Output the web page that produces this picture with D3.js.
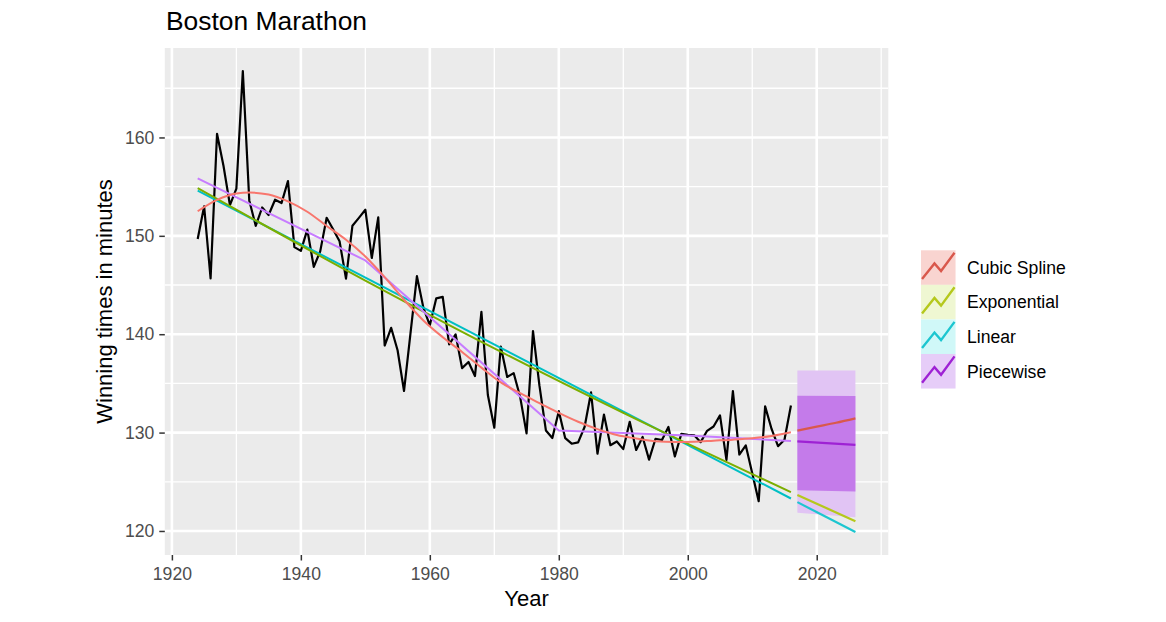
<!DOCTYPE html>
<html>
<head>
<meta charset="utf-8">
<script src="https://cdn.jsdelivr.net/npm/d3@7"></script>
<style>
  body { margin: 0; background: #fff; }
  svg { display: block; font-family: "Liberation Sans", Arial, Helvetica, sans-serif; }
</style>
</head>
<body>
<svg id="chart"></svg>
<script>
// Boston marathon winning times (minutes), 1924-2016
const firstYear = 1924;
const winningTimes = [
  149.67, 153.00, 145.67, 160.37, 157.12, 153.13, 154.80, 166.75, 153.60, 151.02,
  152.88, 152.12, 153.67, 153.33, 155.57, 148.85, 148.47, 150.63, 146.85, 148.42,
  151.83, 150.67, 149.45, 145.65, 151.03, 151.83, 152.65, 147.75, 151.88, 138.85,
  140.65, 138.37, 134.23, 140.08, 145.90, 142.70, 140.90, 143.65, 143.80, 138.97,
  139.98, 136.55, 137.18, 135.75, 142.28, 133.82, 130.50, 138.75, 135.65, 136.05,
  133.65, 129.92, 140.32, 134.77, 130.22, 129.45, 132.18, 129.43, 128.87, 129.00,
  130.57, 134.08, 127.85, 131.83, 128.72, 129.10, 128.32, 131.10, 128.23, 129.55,
  127.25, 129.37, 129.25, 130.57, 127.57, 129.87, 129.78, 129.72, 129.03, 130.18,
  130.62, 131.75, 127.23, 134.22, 127.77, 128.70, 125.87, 123.03, 132.67, 130.37,
  128.62, 129.28, 132.75
];

const seriesNames = ["Cubic Spline", "Exponential", "Linear", "Piecewise"];

// fitted values [year, minutes]
const linearFit = [[1924, 154.60], [2016, 123.30]];
const expFit = [[1924, 154.85], [1950, 145.45], [1970, 138.55], [1990, 132.00], [2016, 123.95]];
const piecewiseFit = [[1924, 155.85], [1950, 147.50], [1980, 130.20], [2000, 129.70], [2016, 129.15]];
const splineFit = [
  [1924, 152.50], [1927, 153.65], [1930, 154.30], [1932, 154.40], [1935, 154.20],
  [1938, 153.50], [1941, 152.45], [1944, 151.00], [1947, 149.60], [1950, 147.90],
  [1953, 145.80], [1956, 143.50], [1959, 141.40], [1962, 139.70], [1965, 138.20],
  [1968, 136.60], [1971, 135.10], [1974, 134.00], [1977, 133.00], [1980, 132.00],
  [1983, 131.10], [1986, 130.35], [1989, 129.75], [1992, 129.40], [1995, 129.12],
  [1998, 129.05], [2001, 129.08], [2004, 129.18], [2007, 129.28], [2010, 129.42],
  [2013, 129.65], [2016, 130.03]
];

// forecasts 2017-2026
const linearFc = [[2017, 122.93], [2026, 119.90]];
const expFc = [[2017, 123.65], [2026, 121.00]];
const piecewiseFc = [[2017, 129.10], [2026, 128.75]];
const splineFc = [[2017, 130.20], [2020, 130.60], [2023, 131.00], [2026, 131.45]];

// piecewise prediction intervals
const bandYears = [2017, 2026];
const lo95 = [121.85, 121.40];
const lo80 = [124.15, 124.00];
const hi80 = [133.75, 133.72];
const hi95 = [136.30, 136.30];

// axis ticks
const xMajor = [1920, 1940, 1960, 1980, 2000, 2020];
const xMinor = [1930, 1950, 1970, 1990, 2010, 2030];
const yMajor = [120, 130, 140, 150, 160];
const yMinor = [125, 135, 145, 155, 165];

const width = 1166, height = 622;
const panel = {left: 164.8, right: 888.3, top: 48, bottom: 555};

const fitColours = ["#F8766D", "#7CAE00", "#00BFC4", "#C77CFF"];
const fcColours = ["#D9584C", "#B5C81C", "#1CC6D0", "#9E22D4"];
const keyFills = ["#F9D4D0", "#EFF7D2", "#D0F8F8", "#E6CDF8"];

const observed = winningTimes.map((v, i) => [firstYear + i, v]);

const expand = ([a, b]) => [a - (b - a) * 0.05, b + (b - a) * 0.05];

const allPoints = [observed, linearFit, expFit, piecewiseFit, splineFit,
  linearFc, expFc, piecewiseFc, splineFc].flat();
const allY = allPoints.map(d => d[1]).concat(lo95, hi95);

const x = d3.scaleLinear()
    .domain(expand(d3.extent(allPoints, d => d[0])))
    .range([panel.left, panel.right]);

const y = d3.scaleLinear()
    .domain(expand(d3.extent(allY)))
    .range([panel.bottom, panel.top]);

const svg = d3.select('#chart')
    .attr('width', width)
    .attr('height', height)
    .attr('viewBox', `0 0 ${width} ${height}`);

svg.append('defs').append('clipPath').attr('id', 'clip')
  .append('rect')
    .attr('x', panel.left).attr('y', panel.top)
    .attr('width', panel.right - panel.left).attr('height', panel.bottom - panel.top);

svg.append('rect')
    .attr('x', panel.left).attr('y', panel.top)
    .attr('width', panel.right - panel.left).attr('height', panel.bottom - panel.top)
    .attr('fill', '#EBEBEB');

const grid = svg.append('g').attr('stroke', '#fff').attr('clip-path', 'url(#clip)');

grid.selectAll('.xminor').data(xMinor).join('line')
    .attr('x1', d => x(d)).attr('x2', d => x(d))
    .attr('y1', panel.top).attr('y2', panel.bottom)
    .attr('stroke-width', 1.3);
grid.selectAll('.yminor').data(yMinor).join('line')
    .attr('y1', d => y(d)).attr('y2', d => y(d))
    .attr('x1', panel.left).attr('x2', panel.right)
    .attr('stroke-width', 1.3);
grid.selectAll('.xmajor').data(xMajor).join('line')
    .attr('x1', d => x(d)).attr('x2', d => x(d))
    .attr('y1', panel.top).attr('y2', panel.bottom)
    .attr('stroke-width', 2.6);
grid.selectAll('.ymajor').data(yMajor).join('line')
    .attr('y1', d => y(d)).attr('y2', d => y(d))
    .attr('x1', panel.left).attr('x2', panel.right)
    .attr('stroke-width', 2.6);

const plot = svg.append('g').attr('clip-path', 'url(#clip)');

const straight = d3.line().x(d => x(d[0])).y(d => y(d[1]));
const smooth = d3.line().x(d => x(d[0])).y(d => y(d[1])).curve(d3.curveMonotoneX);

function addLine(data, colour, gen, w) {
  plot.append('path')
      .datum(data)
      .attr('d', gen)
      .attr('fill', 'none')
      .attr('stroke', colour)
      .attr('stroke-width', w)
      .attr('stroke-linejoin', 'round');
}

// observed series
addLine(observed, '#000', straight, 2.2);

// fitted values: Linear, Exponential, Piecewise, Cubic Spline
addLine(linearFit, fitColours[2], straight, 2);
addLine(expFit, fitColours[1], smooth, 2);
addLine(piecewiseFit, fitColours[3], straight, 2);
addLine(splineFit, fitColours[0], smooth, 2);

// piecewise forecast intervals
const band = (lo, hi) => d3.area()
    .x((d, i) => x(d))
    .y0((d, i) => y(lo[i]))
    .y1((d, i) => y(hi[i]));

plot.append('path').datum(bandYears).attr('d', band(lo95, hi95)).attr('fill', '#E1C4F4');
plot.append('path').datum(bandYears).attr('d', band(lo80, hi80)).attr('fill', '#C47BEA');

// point forecasts
addLine(piecewiseFc, fcColours[3], straight, 2.2);
addLine(linearFc, fcColours[2], straight, 2.2);
addLine(expFc, fcColours[1], straight, 2.2);
addLine(splineFc, fcColours[0], smooth, 2.2);

// axes
const xAxis = svg.append('g')
    .attr('transform', `translate(0,${panel.bottom})`)
    .call(d3.axisBottom(x).tickValues(xMajor).tickFormat(d3.format('d'))
      .tickSize(5.5).tickSizeOuter(0).tickPadding(7));
const yAxis = svg.append('g')
    .attr('transform', `translate(${panel.left},0)`)
    .call(d3.axisLeft(y).tickValues(yMajor).tickFormat(d3.format('d'))
      .tickSize(5.5).tickSizeOuter(0).tickPadding(5));

[xAxis, yAxis].forEach(a => {
  a.select('.domain').remove();
  a.selectAll('.tick line').attr('stroke', '#333').attr('stroke-width', 1.5);
  a.selectAll('.tick text')
      .attr('fill', '#4D4D4D')
      .style('font-size', '17.6px')
      .style('font-family', '"Liberation Sans", Arial, sans-serif');
});

// titles
svg.append('text')
    .attr('x', 166).attr('y', 30)
    .style('font-size', '26.4px')
    .text('Boston Marathon');

svg.append('text')
    .attr('x', (panel.left + panel.right) / 2).attr('y', 606)
    .attr('text-anchor', 'middle')
    .style('font-size', '22px')
    .text('Year');

svg.append('text')
    .attr('transform', `translate(112,${(panel.top + panel.bottom) / 2}) rotate(-90)`)
    .attr('text-anchor', 'middle')
    .style('font-size', '22px')
    .text('Winning times in minutes');

// legend
const keySize = 34.56;
const legend = svg.append('g').attr('transform', 'translate(921,250.3)');

const item = legend.selectAll('g')
  .data(seriesNames)
  .join('g')
    .attr('transform', (d, i) => `translate(0,${i * keySize})`);

item.append('rect')
    .attr('width', keySize).attr('height', keySize)
    .attr('fill', (d, i) => keyFills[i]);

const glyph = [[0.03, 0.17], [0.39, 0.62], [0.58, 0.40], [0.97, 0.93]];
item.append('path')
    .attr('d', d3.line().x(p => p[0] * keySize).y(p => (1 - p[1]) * keySize)(glyph))
    .attr('fill', 'none')
    .attr('stroke', (d, i) => fcColours[i])
    .attr('stroke-width', 2.4);

item.append('text')
    .attr('x', 46).attr('y', keySize / 2)
    .attr('dy', '0.36em')
    .style('font-size', '17.6px')
    .text(d => d);
</script>
</body>
</html>
